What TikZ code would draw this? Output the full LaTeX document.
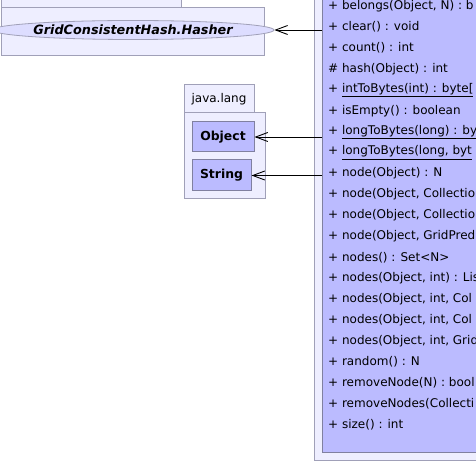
\documentclass[tikz,border=0pt]{standalone}
\usepackage{fontspec}
\setmainfont{DejaVu Sans}
\usetikzlibrary{shapes.geometric,arrows.meta}
\definecolor{pkgfill}{HTML}{EEEEFF}
\definecolor{pkgline}{HTML}{A0A0B8}
\definecolor{clsfill}{HTML}{BBBBFF}
\definecolor{clsline}{HTML}{8080A0}
\definecolor{ifcfill}{HTML}{DDDDFF}
\tikzset{
    pkg/.style={draw=pkgline, fill=pkgfill, line width=1pt},
    cls/.style={draw=clsline, fill=clsfill, line width=1pt, font=\bfseries\fontsize{12.4}{14}\selectfont,
        inner sep=0pt, align=center},
    member/.style={anchor=west, inner sep=0pt, font=\fontsize{12}{14}\selectfont},
    dep/.style={-{Straight Barb[length=12pt,width=9pt]}, line width=0.9pt}
}
\begin{document}
\begin{tikzpicture}[x=1pt, y=-1pt]
    \useasboundingbox[fill=white] (0,0) rectangle (476,462);
    \clip (0,0) rectangle (476,462);
    % package holding the hasher
    \draw[pkg] (1.5,-20) rectangle (181,8);
    \draw[pkg] (1.5,8) rectangle (264,56);
    \node[ellipse, draw=pkgline, fill=ifcfill, line width=0.8pt, minimum width=249pt, minimum height=19pt,
        inner sep=0pt, font=\bfseries\itshape\fontsize{12.8}{15}\selectfont] (hasher) at (133,30) {GridConsistentHash.Hasher};
    % java.lang
    \draw[pkg] (184,85) rectangle (254,113);
    \node[font=\fontsize{12}{14}\selectfont] (langtab) at (219,99) {java.lang};
    \draw[pkg] (184,113) rectangle (265,199);
    \node[cls, minimum width=62pt, minimum height=30pt] (object) at (223,137) {Object};
    \node[cls, minimum width=59pt, minimum height=31pt] (string) at (221.5,175.5) {String};
    % the hash class
    \draw[pkg] (314,-20) rectangle (490,460);
    \draw[clsline, fill=clsfill, line width=1pt] (322,-20) rectangle (490,452);
    \coordinate (clsleft) at (322,0);
    \foreach \txt [count=\i from 0] in {
        {+ belongs(Object, N) : b},
        {+ clear() : void},
        {+ count() : int},
        {\# hash(Object) : int},
        {+ \underline{intToBytes(int) : byte[}},
        {+ isEmpty() : boolean},
        {+ \underline{longToBytes(long) : by}},
        {+ \underline{longToBytes(long, byt}},
        {+ node(Object) : N},
        {+ node(Object, Collectio},
        {+ node(Object, Collectio},
        {+ node(Object, GridPred},
        {+ nodes() : Set<N>},
        {+ nodes(Object, int) : Lis},
        {+ nodes(Object, int, Col},
        {+ nodes(Object, int, Col},
        {+ nodes(Object, int, Grid},
        {+ random() : N},
        {+ removeNode(N) : bool},
        {+ removeNodes(Collecti},
        {+ size() : int}}
        \node[member] (m\i) at (328,{6+20.95*\i}) {\txt};
    % dependencies
    \draw[dep] (clsleft |- hasher.east) -- (hasher.east);
    \draw[dep] (clsleft |- object.east) -- (object.east);
    \draw[dep] (clsleft |- string.east) -- (string.east);
\end{tikzpicture}
\end{document}
